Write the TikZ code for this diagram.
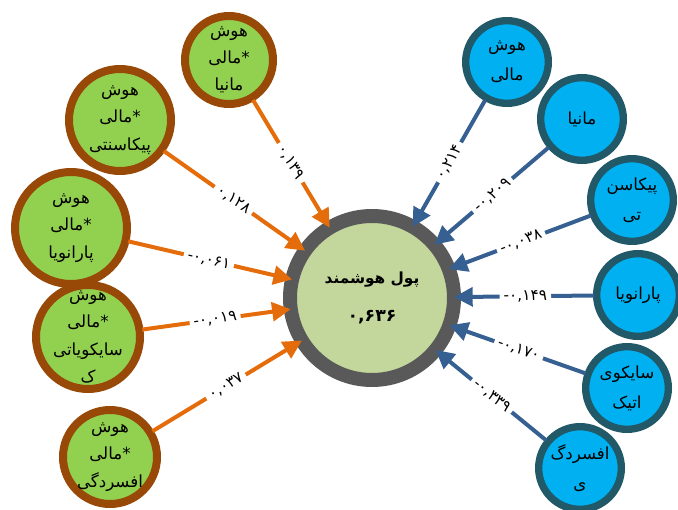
\documentclass[tikz,border=0pt]{standalone}
\usepackage{fontspec}
\usetikzlibrary{arrows.meta}
\newfontfamily\arabicfont[Script=Arabic]{DejaVu Sans}
\newfontfamily\numfont{DejaVu Sans}
\TeXXeTstate=1
\newcommand{\rtltext}[1]{\beginR#1\endR}
\definecolor{leafgreen}{HTML}{92D050}
\definecolor{ringbrown}{HTML}{984807}
\definecolor{palegreen}{HTML}{C3D69B}
\definecolor{ringgray}{HTML}{595959}
\definecolor{skyblue}{HTML}{00B0F0}
\definecolor{ringteal}{HTML}{215968}
\definecolor{arroworange}{HTML}{E46C0A}
\definecolor{arrowblue}{HTML}{376092}
\begin{document}
\begin{tikzpicture}[x=0.75pt, y=-0.75pt,
        fatext/.style={align=center, inner sep=0pt, font=\arabicfont\fontsize{12.5}{20.5}\selectfont},
        trtext/.style={align=center, inner sep=0pt, font=\arabicfont\fontsize{12.5}{22.5}\selectfont},
        hoosh/.style={circle, draw=ringbrown, fill=leafgreen, line width=6pt, inner sep=0pt, outer sep=0pt},
        trait/.style={circle, draw=ringteal, fill=skyblue, line width=5.5pt, inner sep=0pt, outer sep=0pt, minimum size=62pt},
        posarrow/.style={draw=arroworange, line width=3pt, -{Triangle[length=14pt, width=14pt]}, shorten <=2pt},
        negarrow/.style={draw=arrowblue, line width=3pt, -{Triangle[length=14pt, width=14pt]}, shorten <=2pt},
        coef/.style={sloped, fill=white, inner sep=3pt, font=\numfont\fontsize{11.5}{12}\selectfont}]
        \useasboundingbox (0, 0) rectangle (678, 510);
        \node[circle, draw=ringgray, fill=palegreen, line width=10.5pt, inner sep=0pt, outer sep=0pt, minimum size=123pt, align=center, font=\arabicfont\bfseries\fontsize{11.5}{28}\selectfont] (money) at (372, 298) {\rtltext{پول هوشمند}\\{\numfont\fontsize{13}{28}\selectfont ۰,۶۳۶}};
        \node[hoosh, minimum size=66pt, label={[fatext]center:{\rtltext{هوش}\\\rtltext{*مالی}\\\rtltext{مانیا}}}] (imania) at (229, 60) {};
        \node[hoosh, minimum size=76.5pt, label={[fatext]center:{\rtltext{هوش}\\\rtltext{*مالی}\\\rtltext{پیکاسنتی}}}] (ipicasso) at (120, 120) {};
        \node[hoosh, minimum size=84pt, label={[fatext]center:{\rtltext{هوش}\\\rtltext{*مالی}\\\rtltext{پارانویا}}}] (iparanoia) at (71, 228) {};
        \node[hoosh, minimum size=78pt, label={[fatext]center:{\rtltext{هوش}\\\rtltext{*مالی}\\\rtltext{سایکویاتی}\\\rtltext{ک}}}] (ipsycho) at (88, 337) {};
        \node[hoosh, minimum size=70.5pt, label={[fatext]center:{\rtltext{هوش}\\\rtltext{*مالی}\\\rtltext{افسردگی}}}] (idepress) at (110, 457) {};
        \node[trait, label={[trtext]center:{\rtltext{هوش}\\\rtltext{مالی}}}] (fin) at (507, 62) {};
        \node[trait, label={[trtext]center:{\rtltext{مانیا}}}] (mania) at (582, 119) {};
        \node[trait, label={[trtext]center:{\rtltext{پیکاسن}\\\rtltext{تی}}}] (picasso) at (632, 200) {};
        \node[trait, label={[trtext]center:{\rtltext{پارانویا}}}] (paranoia) at (638, 295) {};
        \node[trait, label={[trtext]center:{\rtltext{سایکوی}\\\rtltext{اتیک}}}] (psycho) at (627, 388) {};
        \node[trait, label={[trtext]center:{\rtltext{افسردگ}\\\rtltext{ی}}}] (depress) at (580, 468) {};
        \draw[posarrow] (imania) -- node[coef] {۰,۱۳۹} (money);
        \draw[posarrow] (ipicasso) -- node[coef] {۰,۱۲۸} (money);
        \draw[posarrow] (iparanoia) -- node[coef] {-۰,۰۶۱} (money);
        \draw[posarrow] (ipsycho) -- node[coef] {-۰,۰۱۹} (money);
        \draw[posarrow] (idepress) -- node[coef] {۰,۰۳۷} (money);
        \draw[negarrow] (fin) -- node[coef] {۰,۲۱۴} (money);
        \draw[negarrow] (mania) -- node[coef] {-۰,۲۰۹} (money);
        \draw[negarrow] (picasso) -- node[coef] {-۰,۰۳۸} (money);
        \draw[negarrow] (paranoia) -- node[coef] {-۰,۱۴۹} (money);
        \draw[negarrow] (psycho) -- node[coef] {-۰,۱۷۰} (money);
        \draw[negarrow] (depress) -- node[coef] {-۰,۳۳۹} (money);
    \end{tikzpicture}
\end{document}
